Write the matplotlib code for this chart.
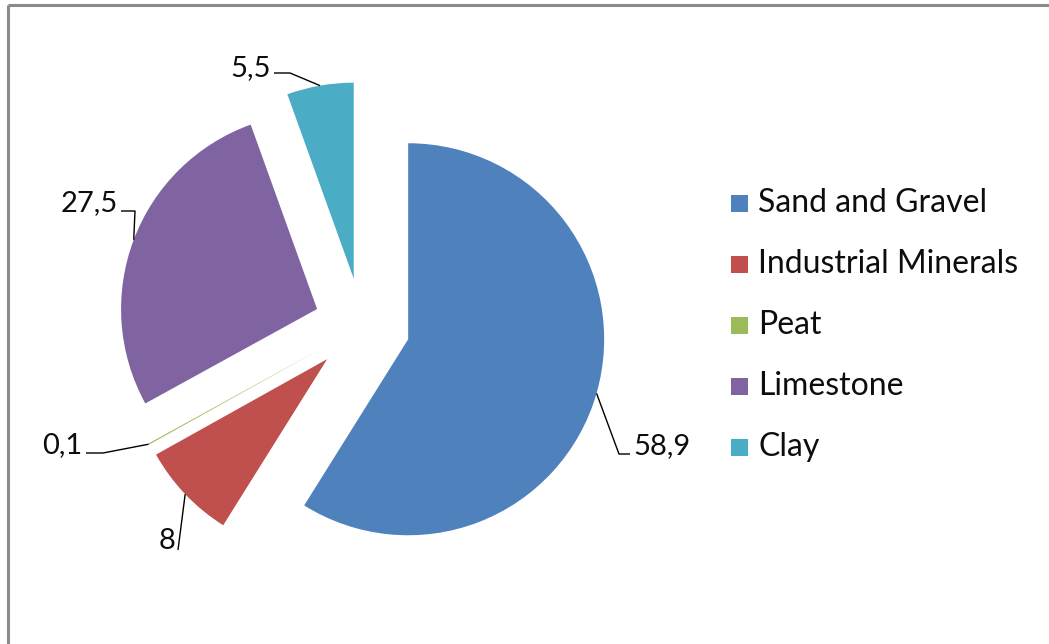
import numpy as np
import matplotlib
matplotlib.use('Agg')
import matplotlib.pyplot as plt
from matplotlib.patches import Rectangle

plt.rcParams['font.family'] = ['Lato', 'DejaVu Sans']

# Production shares (%)
names = ['Sand and Gravel', 'Industrial Minerals', 'Peat', 'Limestone', 'Clay']
shares = [58.9, 8, 0.1, 27.5, 5.5]
share_text = ['58,9', '8', '0,1', '27,5', '5,5']
colors = ['#4F81BD', '#C0504D', '#9BBB59', '#8064A2', '#4BACC6']

W, H = 1049, 644
fig = plt.figure(figsize=(W / 100, H / 100), dpi=100)
ax = fig.add_axes([0, 0, 1, 1])

# pixel-like coordinates, y pointing up
cx, cy, r = 362, H - 326, 196
pull = 0.245 * r  # explode offset is in data units

wedges, _ = ax.pie(shares, colors=colors, startangle=90, counterclock=False,
                   explode=[pull] * len(shares), radius=r, center=(cx, cy),
                   wedgeprops=dict(linewidth=0))

ax.set_xlim(0, W)
ax.set_ylim(0, H)
ax.set_aspect('equal')
ax.axis('off')

# leader line bends and label spots (x, y from the top)
bends = [[(619, 454), (630, 454)],
         [(178, 550)],
         [(103, 453), (86, 453)],
         [(135, 211), (121, 211)],
         [(290, 73), (274, 73)]]
label_pos = [(633, 446, 'left'), (175, 541, 'right'), (82, 445, 'right'),
             (118, 203, 'right'), (271, 68, 'right')]

for w, bend, (tx, ty, ha), txt in zip(wedges, bends, label_pos, share_text):
    mid = np.deg2rad((w.theta1 + w.theta2) / 2)
    ox, oy = w.center
    px = [ox + r * np.cos(mid)] + [b[0] for b in bend]
    py = [oy + r * np.sin(mid)] + [H - b[1] for b in bend]
    ax.plot(px, py, color='black', lw=1.0, solid_capstyle='butt')
    ax.text(tx, H - ty, txt, ha=ha, va='center', fontsize=21, color='#0d0d0d')

# legend
for i, (name, c) in enumerate(zip(names, colors)):
    ly = H - (203 + 61 * i)
    ax.add_patch(Rectangle((731, ly - 8.5), 17, 17, facecolor=c, edgecolor='none'))
    ax.text(758, ly, name, ha='left', va='center', fontsize=23, color='#0d0d0d')

# chart frame
ax.plot([8, W], [H - 5, H - 5], color='#8a8a8a', lw=2.2, solid_capstyle='butt')
ax.plot([8, 8], [H - 5, 0], color='#8a8a8a', lw=2.2, solid_capstyle='butt')

fig.savefig('out.png', dpi=100)
